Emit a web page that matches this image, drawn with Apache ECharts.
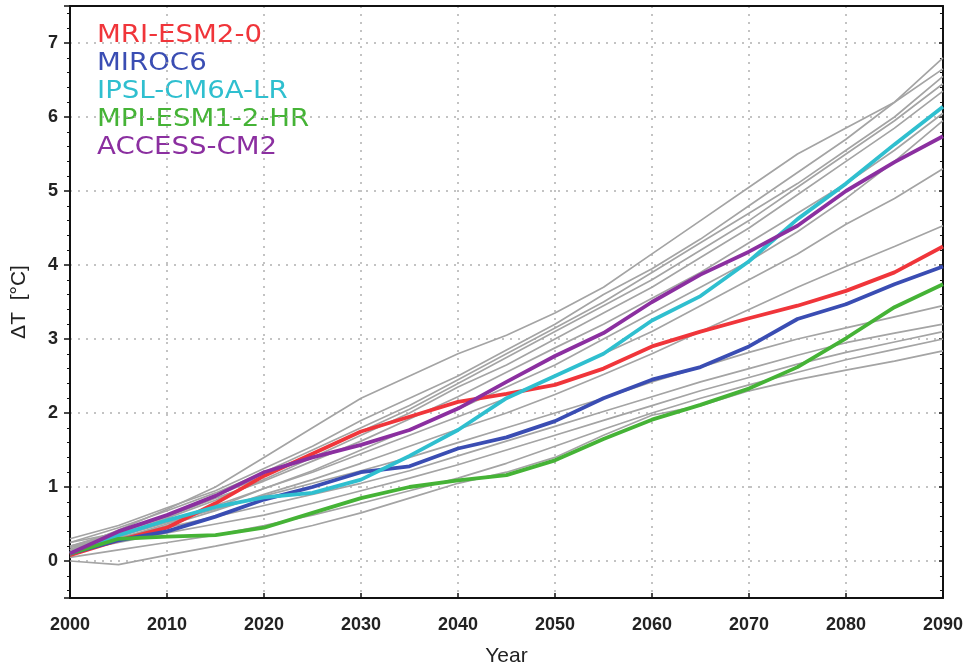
<!DOCTYPE html>
<html>
<head>
<meta charset="utf-8">
<script src="https://cdn.jsdelivr.net/npm/echarts@6/dist/echarts.min.js"></script>
<style>
  html, body { margin: 0; padding: 0; background: #fff; }
  #chart { width: 966px; height: 672px; }
</style>
</head>
<body>
<div id="chart"></div>
<script>
// years sampled every 5 years
const years = [2000, 2005, 2010, 2015, 2020, 2025, 2030, 2035, 2040, 2045,
  2050, 2055, 2060, 2065, 2070, 2075, 2080, 2085, 2090];

// highlighted models
const modelNames = ["MRI-ESM2-0", "MIROC6", "IPSL-CM6A-LR", "MPI-ESM1-2-HR", "ACCESS-CM2"];
const modelColors = ["#f0353a", "#3a4db3", "#2fbfcf", "#45b336", "#8b2fa0"];
const mri = [0.08, 0.28, 0.45, 0.78, 1.15, 1.45, 1.75, 1.95, 2.15, 2.26, 2.38, 2.6, 2.9, 3.1, 3.28, 3.45, 3.65, 3.9, 4.25];
const miroc = [0.1, 0.28, 0.4, 0.6, 0.83, 1.0, 1.2, 1.28, 1.52, 1.67, 1.89, 2.2, 2.45, 2.62, 2.9, 3.27, 3.47, 3.74, 3.98];
const ipsl = [0.1, 0.35, 0.55, 0.73, 0.86, 0.92, 1.1, 1.42, 1.77, 2.2, 2.5, 2.8, 3.25, 3.58, 4.05, 4.62, 5.1, 5.63, 6.14];
const mpi = [0.1, 0.3, 0.33, 0.35, 0.45, 0.65, 0.85, 1.0, 1.09, 1.16, 1.36, 1.65, 1.91, 2.11, 2.33, 2.62, 3.01, 3.43, 3.74];
const access = [0.1, 0.4, 0.62, 0.88, 1.2, 1.4, 1.57, 1.77, 2.06, 2.42, 2.77, 3.08, 3.5, 3.87, 4.18, 4.53, 5.0, 5.39, 5.74];
const modelValues = [mri, miroc, ipsl, mpi, access];

// other ensemble members (grey)
const grey1 = [0.15, 0.42, 0.7, 1.0, 1.4, 1.8, 2.2, 2.5, 2.8, 3.05, 3.35, 3.7, 4.15, 4.6, 5.05, 5.5, 5.85, 6.2, 6.65];
const grey2 = [0.3, 0.48, 0.72, 0.95, 1.25, 1.55, 1.9, 2.2, 2.5, 2.85, 3.2, 3.6, 3.95, 4.35, 4.8, 5.25, 5.7, 6.2, 6.8];
const grey3 = [0.25, 0.45, 0.68, 0.92, 1.2, 1.5, 1.8, 2.1, 2.45, 2.8, 3.15, 3.5, 3.9, 4.3, 4.7, 5.1, 5.55, 6.0, 6.55];
const grey4 = [0.2, 0.4, 0.62, 0.88, 1.15, 1.45, 1.75, 2.05, 2.4, 2.75, 3.1, 3.45, 3.8, 4.2, 4.6, 5.05, 5.5, 5.95, 6.45];
const grey5 = [0.15, 0.35, 0.58, 0.82, 1.1, 1.4, 1.7, 2.0, 2.35, 2.65, 3.0, 3.35, 3.7, 4.1, 4.5, 4.95, 5.4, 5.85, 6.35];
const grey6 = [0.2, 0.38, 0.6, 0.85, 1.08, 1.35, 1.62, 1.92, 2.22, 2.55, 2.88, 3.2, 3.55, 3.9, 4.3, 4.7, 5.1, 5.55, 6.05];
const grey7 = [0.1, 0.3, 0.5, 0.72, 0.98, 1.22, 1.5, 1.78, 2.05, 2.35, 2.65, 3.0, 3.35, 3.7, 4.05, 4.45, 4.9, 5.4, 5.95];
const grey8 = [0.18, 0.33, 0.52, 0.75, 0.98, 1.2, 1.45, 1.7, 1.95, 2.2, 2.5, 2.8, 3.1, 3.45, 3.8, 4.15, 4.55, 4.9, 5.3];
const grey9 = [0.15, 0.3, 0.48, 0.68, 0.9, 1.1, 1.32, 1.55, 1.78, 2.0, 2.25, 2.52, 2.8, 3.1, 3.4, 3.7, 3.98, 4.25, 4.53];
const grey10 = [0.25, 0.38, 0.52, 0.7, 0.88, 1.05, 1.22, 1.4, 1.6, 1.8, 2.0, 2.2, 2.42, 2.62, 2.82, 3.0, 3.15, 3.3, 3.45];
const grey11 = [0.2, 0.32, 0.45, 0.6, 0.75, 0.9, 1.05, 1.22, 1.42, 1.62, 1.82, 2.02, 2.22, 2.42, 2.6, 2.78, 2.95, 3.08, 3.2];
const grey12 = [0.12, 0.25, 0.38, 0.5, 0.62, 0.78, 0.95, 1.12, 1.3, 1.5, 1.7, 1.9, 2.1, 2.3, 2.48, 2.66, 2.82, 2.96, 3.1];
const grey13 = [0.05, 0.15, 0.25, 0.35, 0.48, 0.62, 0.78, 0.95, 1.12, 1.32, 1.55, 1.78, 2.0, 2.2, 2.38, 2.55, 2.72, 2.86, 3.0];
const grey14 = [0.0, -0.05, 0.08, 0.2, 0.33, 0.48, 0.65, 0.85, 1.05, 1.2, 1.4, 1.7, 1.97, 2.1, 2.3, 2.45, 2.58, 2.7, 2.84];
const greyValues = [grey1, grey2, grey3, grey4, grey5, grey6, grey7, grey8, grey9,
  grey10, grey11, grey12, grey13, grey14];

const toPairs = (vals) => years.map((y, i) => [y, vals[i]]);

const chart = echarts.init(document.getElementById("chart"));

const series = [];
greyValues.forEach((vals, i) => {
  series.push({
    name: "grey" + i,
    type: "line",
    showSymbol: false,
    silent: true,
    lineStyle: { color: "#a4a4a4", width: 1.7 },
    data: toPairs(vals),
  });
});
modelValues.forEach((vals, i) => {
  series.push({
    name: modelNames[i],
    type: "line",
    showSymbol: false,
    lineStyle: { color: modelColors[i], width: 3.8 },
    data: toPairs(vals),
  });
});

const labelFont = {
  fontFamily: "Liberation Sans",
  fontWeight: "bold",
  fontSize: 18,
  color: "#222",
};
const gridDots = { color: "#b0b0b0", type: [2, 6], width: 1.5 };
const frameLine = { onZero: false, lineStyle: { color: "#111", width: 2 } };

const option = {
  backgroundColor: "#fff",
  animation: false,
  grid: { left: 70, right: 23, top: 6, bottom: 62 },
  xAxis: [
    {
      type: "value",
      min: 2000,
      max: 2090,
      interval: 10,
      name: "Year",
      nameLocation: "middle",
      nameGap: 48,
      nameTextStyle: { fontFamily: "Liberation Sans", fontSize: 21, color: "#222" },
      axisLine: frameLine,
      axisTick: { inside: true, length: 5, lineStyle: { color: "#111", width: 1.5 } },
      axisLabel: { ...labelFont, margin: 18, formatter: (v) => String(v) },
      splitLine: { show: true, lineStyle: gridDots },
    },
    {
      type: "value",
      position: "top",
      min: 2000,
      max: 2090,
      interval: 10,
      axisLine: frameLine,
      axisTick: { show: false },
      axisLabel: { show: false },
      splitLine: { show: false },
    },
  ],
  yAxis: [
    {
      type: "value",
      min: -0.5,
      max: 7.5,
      splitNumber: 8,
      name: "ΔT  [°C]",
      nameLocation: "middle",
      nameGap: 40,
      nameTextStyle: { fontFamily: "Liberation Sans", fontSize: 21, color: "#222" },
      axisLine: frameLine,
      axisTick: { length: 6, lineStyle: { color: "#111", width: 1.5 } },
      minorTick: { show: true, splitNumber: 5, length: 3, lineStyle: { color: "#111", width: 1 } },
      axisLabel: {
        ...labelFont,
        margin: 12,
        formatter: (v) => (Number.isInteger(v) ? String(v) : ""),
      },
      splitLine: { show: true, lineStyle: gridDots },
    },
    {
      type: "value",
      position: "right",
      min: -0.5,
      max: 7.5,
      splitNumber: 8,
      axisLine: frameLine,
      axisTick: { inside: true, length: 4, lineStyle: { color: "#111", width: 1.5 } },
      minorTick: { show: true, splitNumber: 5, length: 3, lineStyle: { color: "#111", width: 1 } },
      axisLabel: { show: false },
      splitLine: { show: false },
    },
  ],
  graphic: modelNames.map((name, i) => ({
    type: "text",
    left: 97,
    top: 24 + i * 28,
    scaleX: 1.15,
    style: {
      text: name,
      fill: modelColors[i],
      font: "24px 'DejaVu Sans'",
    },
  })),
  series: series,
};

chart.setOption(option);
</script>
</body>
</html>
